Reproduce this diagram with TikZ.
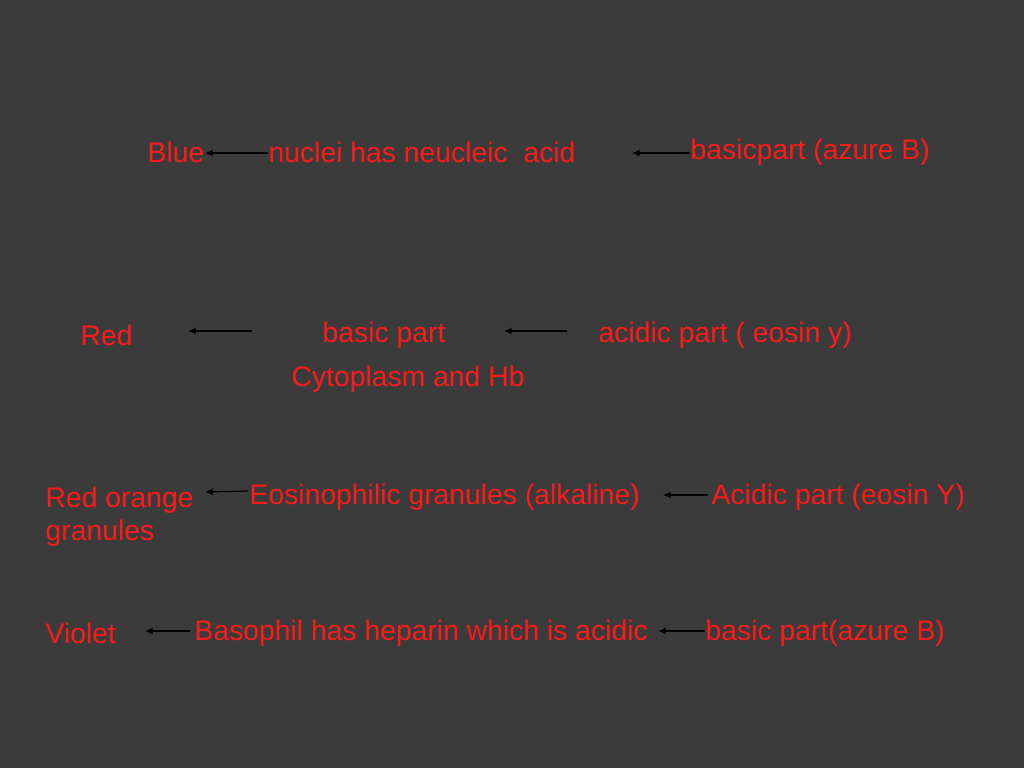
\documentclass[tikz,border=0pt]{standalone}
\usepackage{fontspec}
\setmainfont{Liberation Sans}
\usetikzlibrary{arrows.meta}
\definecolor{slide}{HTML}{3B3B3B}
\definecolor{txtred}{HTML}{FF1A1A}
\tikzset{
  lbl/.style={anchor=west,inner sep=0pt,text=txtred,font=\fontsize{8.05}{9.4}\selectfont},
  pointer/.style={-{Latex[length=2.2pt,width=2pt]},black,line width=0.35pt}
}
\begin{document}
\begin{tikzpicture}[x=0.01cm,y=-0.01cm]
\fill[slide] (0,0) rectangle (1024,768);

% row 1
\node[lbl] (blue) at (147,152) {Blue};
\node[lbl] (nuclei) at (268,152) {nuclei has neucleic\ \ acid};
\node[lbl] (azureb) at (690,152) {basicpart (azure B)};
\draw[pointer] (268,153) -- (205,153);
\draw[pointer] (690,153) -- (632,153);

% row 2
\node[lbl] (red) at (80,335) {Red};
\node[lbl] (basic) at (322,335) {basic part};
\node[lbl] (eosin) at (598,335) {acidic part ( eosin y)};
\node[lbl] (cyto) at (291,379) {Cytoplasm and Hb};
\draw[pointer] (252,331) -- (188,331);
\draw[pointer] (567,331) -- (504,331);

% row 3
\node[lbl,align=left,anchor=north west] (redorange) at (45,486) {Red orange\\granules};
\node[lbl] (eosino) at (249,497) {Eosinophilic granules (alkaline)};
\node[lbl] (eosinY) at (711,497) {Acidic part (eosin Y)};
\draw[pointer] (248,491) -- (205,492);
\draw[pointer] (708,495) -- (663,495);

% row 4
\node[lbl] (violet) at (45,633) {Violet};
\node[lbl] (baso) at (194,633) {Basophil has heparin which is acidic};
\node[lbl] (azure) at (705,633) {basic part(azure B)};
\draw[pointer] (190,631) -- (145,631);
\draw[pointer] (705,631) -- (658,631);
\end{tikzpicture}
\end{document}
